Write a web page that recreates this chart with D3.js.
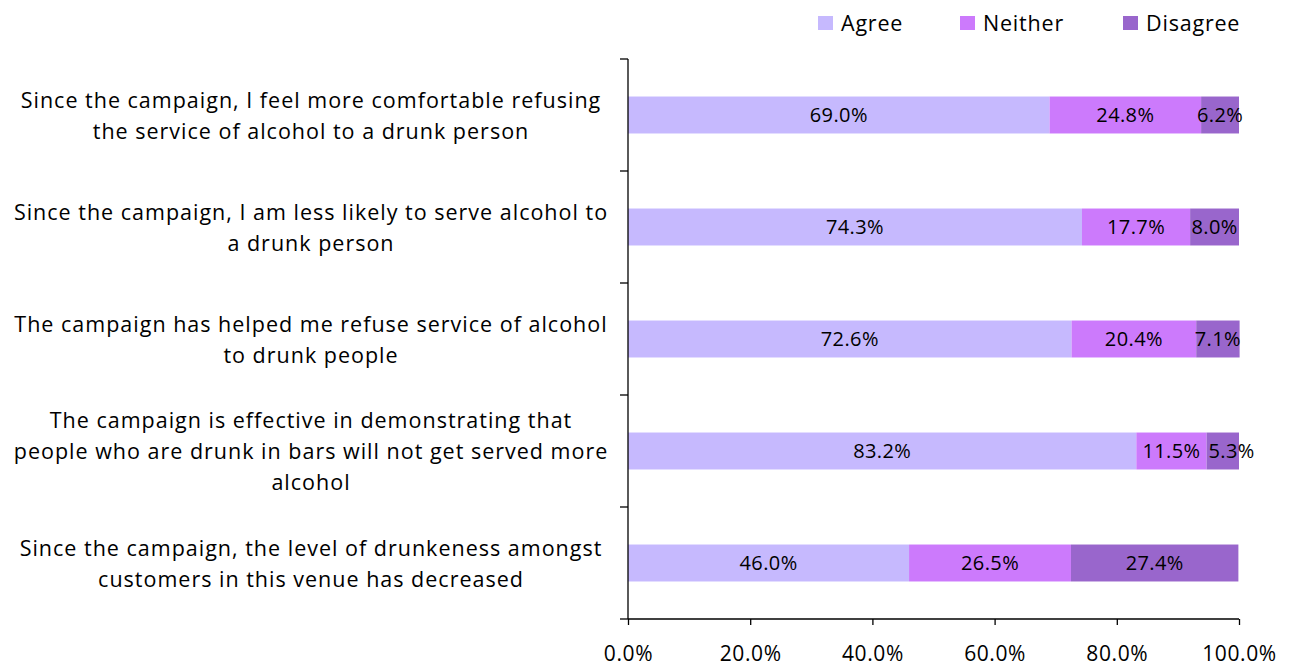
<!DOCTYPE html>
<html>
<head>
<meta charset="utf-8">
<script src="https://cdn.jsdelivr.net/npm/d3@7"></script>
<style>
  html, body { margin: 0; padding: 0; background: #fff; }
  svg { display: block; font-family: "Open Sans", "DejaVu Sans", sans-serif; }
</style>
</head>
<body>
<svg id="chart" width="1296" height="668"></svg>
<script>
// Survey statements (one per bar), each split into display lines
const statements = [
  ["Since the campaign, I feel more comfortable refusing", "the service of alcohol to a drunk person"],
  ["Since the campaign, I am less likely to serve alcohol to", "a drunk person"],
  ["The campaign has helped me refuse service of alcohol", "to drunk people"],
  ["The campaign is effective in demonstrating that", "people who are drunk in bars will not get served more", "alcohol"],
  ["Since the campaign, the level of drunkeness amongst", "customers in this venue has decreased"]
];
const seriesNames = ["Agree", "Neither", "Disagree"];
const agree    = [69.0, 74.3, 72.6, 83.2, 46.0];
const neither  = [24.8, 17.7, 20.4, 11.5, 26.5];
const disagree = [6.2, 8.0, 7.1, 5.3, 27.4];
const xTicks = [0, 20, 40, 60, 80, 100];
const colors = ["#c6b9fe", "#cc7afc", "#9966cc"];

const svg = d3.select("#chart");
const plot = { left: 628, right: 1239, top: 59, bottom: 619 };

const rows = statements.map((s, i) => ({
  id: i, lines: s,
  Agree: agree[i], Neither: neither[i], Disagree: disagree[i]
}));

const x = d3.scaleLinear().domain([0, 100]).range([plot.left, plot.right]);
const y = d3.scaleBand().domain(rows.map(d => d.id)).range([plot.top, plot.bottom])
  .paddingInner(0.67).paddingOuter(0.335);
const yBand = d3.scaleBand().domain(rows.map(d => d.id)).range([plot.top, plot.bottom]);

const stack = d3.stack().keys(seriesNames)(rows);
const color = d3.scaleOrdinal().domain(seriesNames).range(colors);

// Stacked bars
const layers = svg.append("g").selectAll("g").data(stack).join("g")
  .attr("fill", d => color(d.key));
layers.selectAll("rect").data(d => d).join("rect")
  .attr("x", d => x(d[0]))
  .attr("y", d => y(d.data.id))
  .attr("width", d => x(d[1]) - x(d[0]))
  .attr("height", y.bandwidth());

// Value labels centred in each segment
const labels = svg.append("g").attr("font-size", 20).attr("letter-spacing", 0.4)
  .attr("fill", "#000").attr("text-anchor", "middle");
stack.forEach(layer => {
  labels.selectAll(null).data(layer).join("text")
    .attr("class", "val")
    .attr("x", d => (x(d[0]) + x(d[1])) / 2)
    .attr("y", d => y(d.data.id) + y.bandwidth() / 2)
    .attr("dy", "0.36em")
    .text(d => (d[1] - d[0]).toFixed(1) + "%");
});

// Nudge labels to the right where they would collide with the previous one in the row
rows.forEach(r => {
  const row = labels.selectAll("text.val").filter(d => d.data.id === r.id).nodes()
    .sort((a, b) => +a.getAttribute("x") - +b.getAttribute("x"));
  let prevRight = -Infinity;
  row.forEach(node => {
    const w = node.getComputedTextLength();
    let cx = +node.getAttribute("x");
    if (cx - w / 2 < prevRight + 8) {
      cx = prevRight + 8 + w / 2;
      node.setAttribute("x", cx);
    }
    prevRight = cx + w / 2;
  });
});

// X axis
const xAxis = svg.append("g").attr("transform", `translate(0,${plot.bottom})`)
  .call(d3.axisBottom(x).tickValues(xTicks).tickSize(6).tickPadding(21)
    .tickFormat(d => d.toFixed(1) + "%"));
xAxis.select(".domain").attr("stroke", "#000").attr("stroke-width", 1.3)
  .attr("d", `M${plot.left},0H${plot.right}`);
xAxis.selectAll(".tick line").attr("stroke", "#000").attr("stroke-width", 1.3);
xAxis.selectAll(".tick text").attr("font-size", 21).attr("letter-spacing", 0.6)
  .attr("font-family", "Open Sans").attr("fill", "#000");

// Y axis: vertical line with ticks at category boundaries
const yAxis = svg.append("g");
yAxis.append("line").attr("x1", plot.left).attr("x2", plot.left)
  .attr("y1", plot.top).attr("y2", plot.bottom)
  .attr("stroke", "#000").attr("stroke-width", 1.3);
const bounds = rows.map(d => yBand(d.id)).concat([plot.bottom]);
yAxis.selectAll(".yt").data(bounds).join("line")
  .attr("x1", plot.left - 8).attr("x2", plot.left)
  .attr("y1", d => d).attr("y2", d => d)
  .attr("stroke", "#000").attr("stroke-width", 1.3);

// Category labels
const cat = svg.append("g").attr("font-size", 21.5).attr("letter-spacing", 1.0)
  .attr("text-anchor", "middle").attr("fill", "#000");
rows.forEach(r => {
  const cy = yBand(r.id) + yBand.bandwidth() / 2;
  const n = r.lines.length;
  const lh = 31;
  const t = cat.append("text").attr("x", 311);
  r.lines.forEach((line, k) => {
    t.append("tspan").attr("x", 311)
      .attr("y", cy + (k - (n - 1) / 2) * lh)
      .attr("dy", "0.38em")
      .text(line);
  });
});

// Legend
const legendX = [818, 960, 1123];
const legend = svg.append("g");
seriesNames.forEach((name, i) => {
  const g = legend.append("g").attr("transform", `translate(${legendX[i]},16)`);
  g.append("rect").attr("width", 15).attr("height", 14).attr("fill", colors[i]);
  g.append("text").attr("x", 23).attr("y", 7).attr("dy", "0.38em")
    .attr("font-size", 21.5).attr("letter-spacing", 0.8).attr("fill", "#000").text(name);
});
</script>
</body>
</html>
